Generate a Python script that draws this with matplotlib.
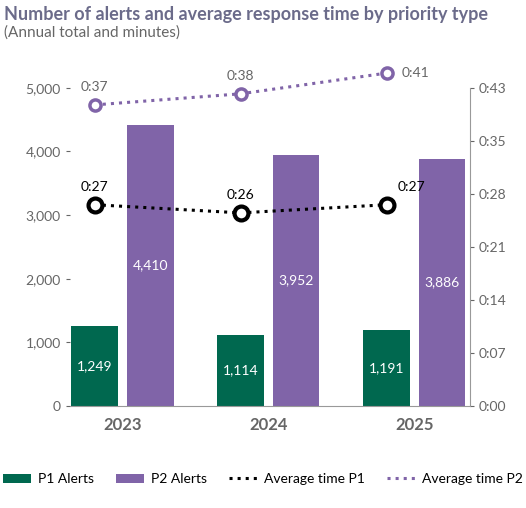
import matplotlib.pyplot as plt
import numpy as np
from matplotlib.ticker import FuncFormatter, FixedLocator

plt.rcParams['font.family'] = ['Lato', 'DejaVu Sans']

years = ['2023', '2024', '2025']
p1_alerts = [1249, 1114, 1191]
p2_alerts = [4410, 3952, 3886]
# average time in minutes (positions)
p1_time = [27.2, 26.1, 27.2]
p2_time = [40.7, 42.2, 45.0]
p1_time_labels = ['0:27', '0:26', '0:27']
p2_time_labels = ['0:37', '0:38', '0:41']

GREEN = '#00684f'
PURPLE = '#8064a8'
GRAY = '#666666'

fig = plt.figure(figsize=(5.26, 5.08), dpi=100)
ax = fig.add_axes([0.133, 0.201, 0.760, 0.626])
x = np.arange(len(years))
w = 0.32
off = 0.19

ax.bar(x - off, p1_alerts, w, color=GREEN, label='P1 Alerts')
ax.bar(x + off, p2_alerts, w, color=PURPLE, label='P2 Alerts')
for i in range(len(years)):
    ax.text(x[i] - off, p1_alerts[i] / 2, f'{p1_alerts[i]:,}', color='white',
            ha='center', va='center', fontsize=10)
    ax.text(x[i] + off, p2_alerts[i] / 2, f'{p2_alerts[i]:,}', color='white',
            ha='center', va='center', fontsize=10)

ax.set_ylim(0, 5000)
ax.set_xlim(-0.36, 2.38)
ax.set_yticks(range(0, 5001, 1000))
ax.yaxis.set_major_formatter(FuncFormatter(lambda v, p: f'{int(v):,}'))
ax.set_xticks(x)
ax.set_xticklabels(years, fontsize=12, fontweight='bold', color=GRAY)
ax.tick_params(axis='y', colors=GRAY, labelsize=10, length=3)
ax.tick_params(axis='x', length=0, pad=8)
for s in ['top', 'right', 'left']:
    ax.spines[s].set_visible(False)
ax.spines['bottom'].set_color('#999999')

ax2 = ax.twinx()
ax2.set_ylim(0, 43)
ax2.yaxis.set_major_locator(FixedLocator(np.linspace(0, 43, 7)))
ax2.yaxis.set_major_formatter(FuncFormatter(lambda v, p: f'{int(v // 60)}:{int(v + 1e-9) % 60:02d}'))
ax2.tick_params(axis='y', colors=GRAY, labelsize=10, length=3)
for s in ['top', 'left', 'bottom']:
    ax2.spines[s].set_visible(False)
ax2.spines['right'].set_color('#999999')

xp = x - off
ax2.plot(xp, p1_time, ':', color='black', lw=2.2, label='Average time P1', clip_on=False)
ax2.plot(xp, p1_time, 'o', ms=10, mfc='white', mec='black', mew=3, clip_on=False)
ax2.plot(xp, p2_time, ':', color=PURPLE, lw=2.2, label='Average time P2', clip_on=False)
ax2.plot(xp, p2_time, 'o', ms=8, mfc='white', mec=PURPLE, mew=2.5, clip_on=False)
p1_dx = [0, 0, 0.17]
for i in range(len(years)):
    ax2.text(xp[i] + p1_dx[i], p1_time[i] + 1.6, p1_time_labels[i],
             ha='center', va='bottom', fontsize=10, color='black')
    if i == 2:
        ax2.text(xp[i] + 0.1, p2_time[i], p2_time_labels[i], ha='left', va='center',
                 fontsize=10, color=GRAY)
    else:
        ax2.text(xp[i], p2_time[i] + 1.6, p2_time_labels[i], ha='center', va='bottom',
                 fontsize=10, color=GRAY)

fig.text(0.008, 0.972, 'Number of alerts and average response time by priority type',
         fontsize=13, fontweight='bold', color='#6b6b8a', va='center')
fig.text(0.008, 0.935, '(Annual total and minutes)', fontsize=11, color=GRAY, va='center')

h1, l1 = ax.get_legend_handles_labels()
h2, l2 = ax2.get_legend_handles_labels()
fig.legend(h1 + h2, l1 + l2, loc='lower center', bbox_to_anchor=(0.5, 0.02), ncol=4,
           frameon=False, fontsize=10, handlelength=2.0, handletextpad=0.5,
           columnspacing=1.6)

fig.savefig('out.png', dpi=100)
